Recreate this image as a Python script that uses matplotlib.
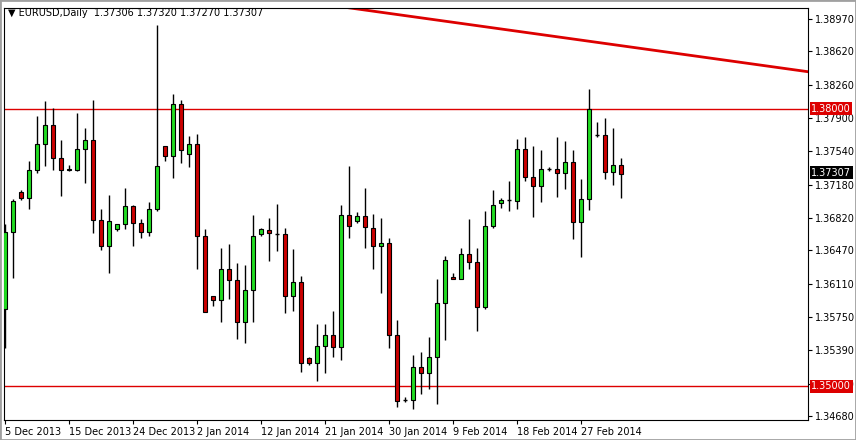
import matplotlib
matplotlib.use("Agg")
import matplotlib.pyplot as plt
from matplotlib.patches import Rectangle

# daily EURUSD candles
opens = [1.3584, 1.3667, 1.3710, 1.3704, 1.3734, 1.3762, 1.3782, 1.3747, 1.3734, 1.3734,
         1.3757, 1.3766, 1.3680, 1.3652, 1.3670, 1.3675, 1.3695, 1.3677, 1.3667, 1.3692,
         1.3760, 1.3749, 1.3805, 1.3751, 1.3762, 1.3662, 1.3598, 1.3593, 1.3627, 1.3615,
         1.3570, 1.3604, 1.3665, 1.3669, 1.3665, 1.3665, 1.3598, 1.3613, 1.3531, 1.3525,
         1.3544, 1.3555, 1.3542, 1.3685, 1.3679, 1.3684, 1.3671, 1.3652, 1.3655, 1.3555,
         1.3485, 1.3485, 1.3521, 1.3514, 1.3532, 1.3590, 1.3618, 1.3616, 1.3643, 1.3634,
         1.3586, 1.3673, 1.3698, 1.3701, 1.3700, 1.3756, 1.3726, 1.3717, 1.3735, 1.3735,
         1.3731, 1.3742, 1.3678, 1.3703, 1.3772, 1.3772, 1.3732, 1.3739]
highs = [1.3675, 1.3703, 1.3712, 1.3744, 1.3792, 1.3808, 1.3801, 1.3766, 1.3739, 1.3795,
         1.3779, 1.3809, 1.3692, 1.3707, 1.3675, 1.3714, 1.3696, 1.3681, 1.3699, 1.3890,
         1.3760, 1.3816, 1.3810, 1.3771, 1.3773, 1.3670, 1.3598, 1.3650, 1.3654, 1.3633,
         1.3631, 1.3685, 1.3671, 1.3682, 1.3697, 1.3671, 1.3648, 1.3619, 1.3532, 1.3567,
         1.3567, 1.3581, 1.3696, 1.3738, 1.3688, 1.3714, 1.3686, 1.3682, 1.3660, 1.3572,
         1.3488, 1.3534, 1.3537, 1.3553, 1.3616, 1.3641, 1.3623, 1.3649, 1.3681, 1.3650,
         1.3689, 1.3712, 1.3704, 1.3722, 1.3767, 1.3770, 1.3760, 1.3755, 1.3737, 1.3769,
         1.3765, 1.3755, 1.3724, 1.3821, 1.3786, 1.3790, 1.3779, 1.3747]
lows = [1.3541, 1.3617, 1.3701, 1.3692, 1.3731, 1.3738, 1.3734, 1.3706, 1.3733, 1.3733,
        1.3720, 1.3666, 1.3647, 1.3622, 1.3668, 1.3670, 1.3652, 1.3660, 1.3663, 1.3689,
        1.3743, 1.3725, 1.3741, 1.3737, 1.3627, 1.3580, 1.3587, 1.3570, 1.3594, 1.3551,
        1.3547, 1.3570, 1.3662, 1.3635, 1.3646, 1.3579, 1.3581, 1.3516, 1.3523, 1.3506,
        1.3514, 1.3532, 1.3528, 1.3660, 1.3677, 1.3650, 1.3627, 1.3601, 1.3541, 1.3478,
        1.3483, 1.3476, 1.3492, 1.3497, 1.3481, 1.3550, 1.3616, 1.3616, 1.3627, 1.3560,
        1.3584, 1.3671, 1.3693, 1.3689, 1.3692, 1.3722, 1.3683, 1.3699, 1.3733, 1.3705,
        1.3713, 1.3659, 1.3640, 1.3691, 1.3769, 1.3724, 1.3718, 1.3704]
closes = [1.3667, 1.3700, 1.3704, 1.3734, 1.3762, 1.3782, 1.3747, 1.3734, 1.3735, 1.3757,
          1.3766, 1.3680, 1.3652, 1.3679, 1.3675, 1.3695, 1.3676, 1.3667, 1.3692, 1.3738,
          1.3749, 1.3805, 1.3755, 1.3762, 1.3662, 1.3580, 1.3593, 1.3627, 1.3615, 1.3570,
          1.3604, 1.3662, 1.3670, 1.3666, 1.3665, 1.3598, 1.3613, 1.3525, 1.3525, 1.3544,
          1.3555, 1.3542, 1.3685, 1.3673, 1.3684, 1.3672, 1.3652, 1.3655, 1.3555, 1.3484,
          1.3485, 1.3521, 1.3514, 1.3532, 1.3590, 1.3636, 1.3616, 1.3643, 1.3634, 1.3586,
          1.3673, 1.3696, 1.3701, 1.3701, 1.3757, 1.3726, 1.3717, 1.3735, 1.3735, 1.3731,
          1.3742, 1.3678, 1.3703, 1.3800, 1.3772, 1.3732, 1.3739, 1.3730]

date_labels = ["5 Dec 2013", "15 Dec 2013", "24 Dec 2013", "2 Jan 2014", "12 Jan 2014",
               "21 Jan 2014", "30 Jan 2014", "9 Feb 2014", "18 Feb 2014", "27 Feb 2014"]
price_ticks = [1.34680, 1.35030, 1.35390, 1.35750, 1.36110, 1.36470, 1.36820,
               1.37180, 1.37540, 1.37900, 1.38260, 1.38620, 1.38970]
levels = [1.38000, 1.35000]
trend_x = [40.6, 100.4]
trend_y = [1.3912, 1.3840]
last_price = 1.37307

fig = plt.figure(figsize=(8.56, 4.40), dpi=100)
ax = fig.add_axes([4/856, 20/440, 804/856, 412/440])
ax.set_xlim(-0.125, 100.375)
ax.set_ylim(1.34636, 1.39089)

for lv in levels:
    ax.axhline(lv, color="#dd0000", lw=1, zorder=1)
ax.plot(trend_x, trend_y, color="#dd0000", lw=2, zorder=1, clip_on=True)

w = 0.6
for i in range(len(opens)):
    o, h, l, c = opens[i], highs[i], lows[i], closes[i]
    ax.vlines(i, l, h, color="black", lw=1, zorder=2)
    if abs(c - o) < 0.00008:
        ax.hlines(o, i - w/2, i + w/2, color="black", lw=1, zorder=3)
        continue
    col = "#22dd22" if c > o else "#cc0000"
    ax.add_patch(Rectangle((i - w/2, min(o, c)), w, abs(c - o), facecolor=col,
                           edgecolor="black", lw=0.8, zorder=3))

ax.yaxis.tick_right()
ax.set_yticks(price_ticks)
ax.set_yticklabels(["%.5f" % p for p in price_ticks])
ax.set_xticks(range(0, 8 * len(date_labels), 8))
ax.set_xticklabels(date_labels, ha="left")
ax.tick_params(labelsize=7, length=3, pad=2, colors="black")
for s in ax.spines.values():
    s.set_linewidth(0.8)

for lv, bg in [(1.38000, "#dd0000"), (1.35000, "#dd0000"), (last_price, "black")]:
    ax.text(1.004, lv, "%.5f" % lv, transform=ax.get_yaxis_transform(), fontsize=7,
            color="white", va="center", ha="left",
            bbox=dict(boxstyle="square,pad=0.15", fc=bg, ec="none"))

fig.text(8/856, 1 - 13/440, "\u25bc EURUSD,Daily  1.37306 1.37320 1.37270 1.37307",
         fontsize=7, va="center", ha="left")
fig.patches.append(Rectangle((0, 0), 1, 1, transform=fig.transFigure, fill=False,
                             ec="#a0a0a0", lw=2))
fig.savefig("out.png", dpi=100)
